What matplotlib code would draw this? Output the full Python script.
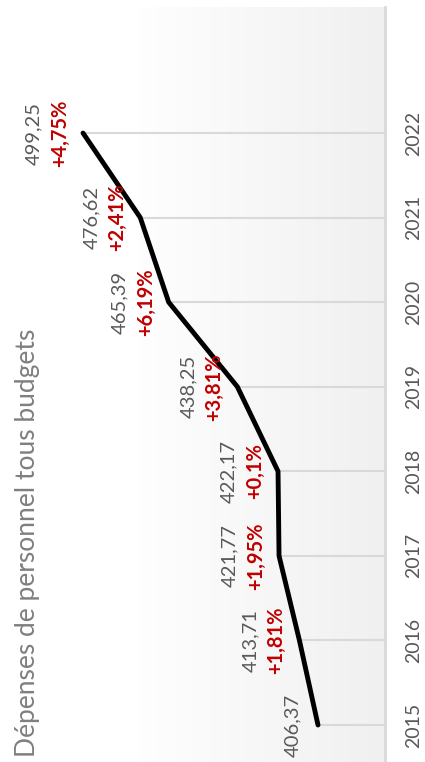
import numpy as np
import matplotlib.pyplot as plt

years = [2015, 2016, 2017, 2018, 2019, 2020, 2021, 2022]
depenses = [406.37, 413.71, 421.77, 422.17, 438.25, 465.39, 476.62, 499.25]
# year-on-year growth, no value for the first year
croissance = [None, 1.81, 1.95, 0.1, 3.81, 6.19, 2.41, 4.75]

titre = "Dépenses de personnel tous budgets"
gris_txt = "#595959"
rouge = "#c00000"
base = 380

plt.rcParams['font.family'] = ['Lato', 'DejaVu Sans']

fig = plt.figure(figsize=(4.25, 7.62), dpi=100)
ax = fig.add_axes([0, 0, 1, 1])
ax.set_xlim(532.06, 364.08)
ax.set_ylim(2014.5625, 2023.573)
ax.axis('off')

# plot area background: light grey gradient towards the axis
grad = np.linspace(0, 1, 256).reshape(1, -1)
ax.imshow(grad, cmap=plt.matplotlib.colors.LinearSegmentedColormap.from_list(
    'fond', ['#fefefe', '#f0f0f0']), aspect='auto',
    extent=[140 / 425, 386 / 425, 0, 755 / 762], transform=ax.transAxes, zorder=0)

# drop lines and category axis
ax.hlines(years, depenses, base, color='#d9d9d9', lw=1.5, zorder=1)
ax.axvline(base, ymin=0, ymax=755 / 762, color='#d9d9d9', lw=2, zorder=1)

ax.plot(depenses, years, color='black', lw=3.5, solid_capstyle='round', zorder=3)

for an, v, g in zip(years, depenses, croissance):
    decal = -25 if g is None else -49
    ax.annotate(f"{v:.2f}".replace('.', ','), (v, an), xytext=(decal, 0),
                textcoords='offset pixels', rotation=90, ha='center', va='center',
                fontsize=14.5, color=gris_txt)
    if g is not None:
        ax.annotate(f"+{g:g}%".replace('.', ','), (v, an), xytext=(-23, 0),
                    textcoords='offset pixels', rotation=90, ha='center', va='center',
                    fontsize=14.5, color=rouge, fontweight='bold')
    ax.text(414 / 425, an, str(an), transform=ax.get_yaxis_transform(),
            rotation=90, ha='center', va='center', fontsize=14, color=gris_txt)

fig.text(28 / 425, 1 - 543 / 762, titre, rotation=90, ha='center', va='center',
         fontsize=19, color='#7f7f7f')

fig.savefig('out.png', dpi=100)
